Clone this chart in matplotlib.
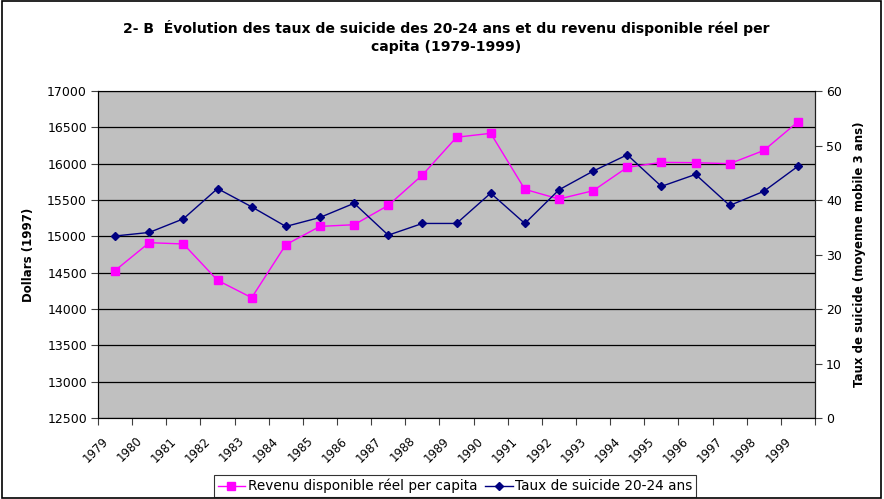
import matplotlib
matplotlib.use("Agg")
import matplotlib.pyplot as plt
from matplotlib.lines import Line2D
from matplotlib.patches import Rectangle
import numpy as np

plt.rcParams['font.family'] = ['DejaVu Sans']

years = [str(y) for y in range(1979, 2000)]
revenu = [14530, 14913, 14895, 14395, 14156, 14885, 15137, 15160, 15426, 15844,
          16364, 16418, 15647, 15514, 15628, 15950, 16018, 16014, 16000, 16182, 16577]
suicide = [33.4, 34.05, 36.55, 42.1, 38.75, 35.15, 36.8, 39.4, 33.55, 35.7,
           35.7, 41.26, 35.7, 41.87, 45.3, 48.3, 42.5, 44.7, 39.0, 41.6, 46.2]
left_ticks = list(range(12500, 17001, 500))
right_ticks = list(range(0, 61, 10))

fig = plt.figure(figsize=(8.84, 4.99), dpi=100)
fig.patches.append(Rectangle((0.002, 0.003), 0.995, 0.994, transform=fig.transFigure,
                             fill=False, edgecolor='black', linewidth=1.2))

ax = fig.add_axes([0.1109, 0.1623, 0.8111, 0.6553])
ax.set_facecolor('#C0C0C0')
x = np.arange(len(years)) + 0.5
ax.plot(x, revenu, color='#FF00FF', marker='s', markersize=5.5, linewidth=1.0,
        markeredgecolor='#FF00FF', zorder=3)
ax.set_xlim(0, len(years))
ax.set_ylim(12500, 17000)
ax.set_yticks(left_ticks)
ax.set_yticklabels([str(t) for t in left_ticks], fontsize=9)
ax.yaxis.grid(True, color='black', linewidth=0.9)
ax.set_axisbelow(True)
ax.set_xticks(np.arange(len(years) + 1))
ax.set_xticklabels([])
ax.tick_params(axis='x', length=5, direction='out', color='#404040')
ax.tick_params(axis='y', length=5, direction='out', color='#404040', pad=3)
for t, lab in zip(x, years):
    ax.text(t - 0.4, -0.05, lab, transform=ax.get_xaxis_transform(), rotation=45,
            ha='right', va='top', rotation_mode='anchor', fontsize=8.5)
ax.set_ylabel('Dollars (1997)', fontsize=8.5, fontweight='bold', labelpad=9)
for s in ['left', 'bottom']:
    ax.spines[s].set_color('#404040')
ax.spines['top'].set_color('#808080')

ax2 = ax.twinx()
ax2.plot(x, suicide, color='#000080', marker='D', markersize=4.5, linewidth=1.0, zorder=3)
ax2.set_ylim(0, 60)
ax2.set_yticks(right_ticks)
ax2.set_yticklabels([str(t) for t in right_ticks], fontsize=9)
ax2.tick_params(axis='y', length=5, direction='out', color='#404040', pad=3)
ax2.set_ylabel('Taux de suicide (moyenne mobile 3 ans)', fontsize=8.5, fontweight='bold', labelpad=8)
ax2.spines['right'].set_color('#202020')

fig.text(0.505, 0.925, "2- B  Évolution des taux de suicide des 20-24 ans et du revenu disponible réel per\ncapita (1979-1999)",
         ha='center', va='center', fontsize=10.1, fontweight='bold', linespacing=1.35)

handles = [Line2D([], [], color='#FF00FF', marker='s', markersize=5.5, linewidth=1.0),
           Line2D([], [], color='#000080', marker='D', markersize=4.5, linewidth=1.0)]
leg = fig.legend(handles, ['Revenu disponible réel per capita', 'Taux de suicide 20-24 ans'],
                 loc='center', bbox_to_anchor=(0.515, 0.026), ncol=2, fontsize=9.8,
                 frameon=True, fancybox=False, edgecolor='black', handlelength=2.0,
                 handletextpad=0.2, columnspacing=0.6, borderpad=0.25, borderaxespad=0)
leg.get_frame().set_linewidth(0.8)

fig.savefig('out.png', dpi=100)
